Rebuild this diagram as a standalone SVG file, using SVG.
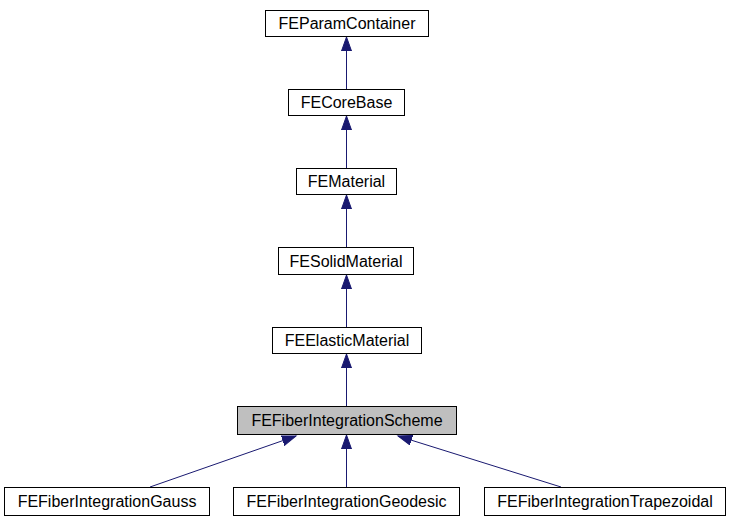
<svg xmlns="http://www.w3.org/2000/svg" width="732" height="523" viewBox="0 0 732 523">
<style>
.n rect{fill:#fff;stroke:#000;stroke-width:1}
.n.h rect{fill:#bfbfbf}
.n text{font-family:"Liberation Sans",Arial,sans-serif;font-size:16px;text-anchor:middle;fill:#000}
.e{stroke:#191970;stroke-width:1;fill:none;marker-end:url(#a)}
</style>
<defs>
<marker id="a" markerUnits="userSpaceOnUse" markerWidth="16" markerHeight="12" refX="14" refY="5.5" orient="auto">
<path d="M0,0.5 L14,5.5 L0,10.5 Z" fill="#191970" stroke="#191970"/>
</marker>
</defs>
<g id="edges">
<path class="e" d="M346.5,89 V37"/>
<path class="e" d="M346.5,168 V116"/>
<path class="e" d="M346.5,247 V195"/>
<path class="e" d="M346.5,327 V275"/>
<path class="e" d="M346.5,406 V354"/>
<path class="e" d="M150,487 L296,436"/>
<path class="e" d="M346.5,487 V435"/>
<path class="e" d="M561,487 L398,436"/>
</g>
<g id="FEParamContainer" class="n"><rect x="265.5" y="10.5" width="163" height="26"/><text x="347" y="29">FEParamContainer</text></g>
<g id="FECoreBase" class="n"><rect x="288.5" y="89.5" width="116" height="26"/><text x="346.5" y="108">FECoreBase</text></g>
<g id="FEMaterial" class="n"><rect x="296.5" y="168.5" width="100" height="26"/><text x="346.5" y="187">FEMaterial</text></g>
<g id="FESolidMaterial" class="n"><rect x="278.5" y="247.5" width="135" height="27"/><text x="346" y="266.5">FESolidMaterial</text></g>
<g id="FEElasticMaterial" class="n"><rect x="272.5" y="327.5" width="149" height="26"/><text x="347" y="346">FEElasticMaterial</text></g>
<g id="FEFiberIntegrationScheme" class="n h"><rect x="237.5" y="406.5" width="219" height="28"/><text x="347" y="426">FEFiberIntegrationScheme</text></g>
<g id="FEFiberIntegrationGauss" class="n"><rect x="4.5" y="487.5" width="205" height="28"/><text x="107" y="507">FEFiberIntegrationGauss</text></g>
<g id="FEFiberIntegrationGeodesic" class="n"><rect x="233.5" y="487.5" width="226" height="28"/><text x="346.5" y="507">FEFiberIntegrationGeodesic</text></g>
<g id="FEFiberIntegrationTrapezoidal" class="n"><rect x="484.5" y="487.5" width="241" height="28"/><text x="605" y="507">FEFiberIntegrationTrapezoidal</text></g>
</svg>
